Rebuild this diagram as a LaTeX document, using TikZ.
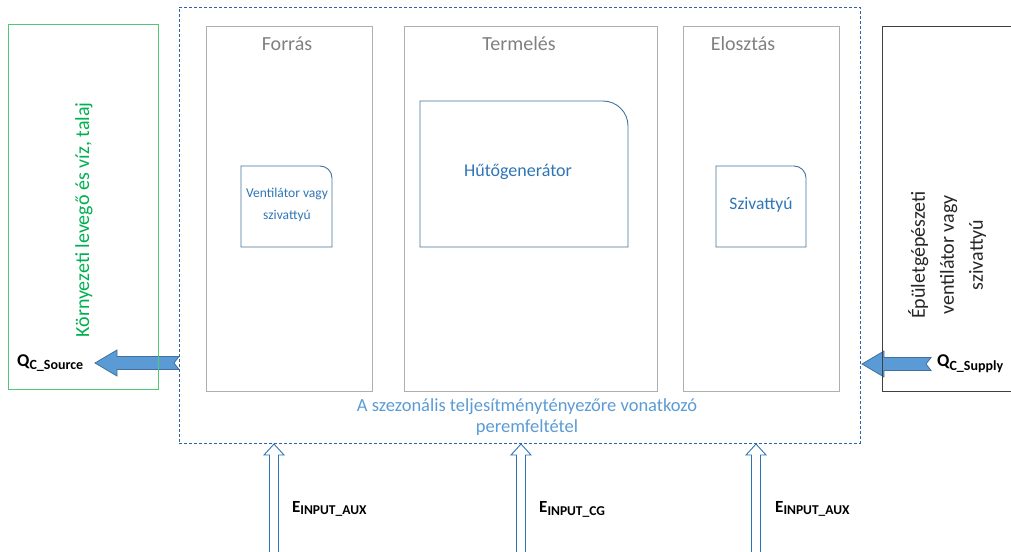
\documentclass[tikz,border=0pt]{standalone}
\usepackage{fontspec}
\setmainfont{Carlito}
\usetikzlibrary{calc}
\definecolor{zonegray}{RGB}{175,175,175}
\definecolor{titlegray}{RGB}{128,128,128}
\definecolor{envgreen}{RGB}{0,176,80}
\definecolor{envline}{RGB}{80,200,120}
\definecolor{unitline}{RGB}{65,113,156}
\definecolor{unittext}{RGB}{46,117,182}
\definecolor{lightblue}{RGB}{91,155,213}
\definecolor{dashblue}{RGB}{46,100,165}
\definecolor{darkline}{RGB}{64,64,64}
\tikzset{
  zone/.style={draw=zonegray,line width=0.9pt,inner sep=0pt,outer sep=0pt},
  frame/.style={inner sep=0pt,outer sep=0pt},
  zonetitle/.style={text=titlegray,font=\fontsize{20}{24}\selectfont,inner sep=0pt},
  unitlabel/.style={text=unittext,align=center,inner sep=0pt},
  blockarrow/.style={fill=lightblue,draw=unitline,line width=0.8pt,line join=miter},
  hollowarrow/.style={fill=white,draw=unittext,line width=0.9pt,line join=miter},
  qlabel/.style={anchor=west,inner sep=0pt,font=\bfseries\fontsize{18}{20}\selectfont},
  elabel/.style={anchor=west,inner sep=0pt,font=\bfseries\fontsize{17}{20}\selectfont}
}
\newcommand\rtbox[2]{%
  \draw[unitline,line width=0.9pt] (#1.south west) -- (#1.north west) -- ([xshift=-#2]#1.north east)
    to[out=0,in=90] ([yshift=-#2]#1.north east) -- (#1.south east) -- cycle;}
% left-pointing block arrow from tail #1 to tip #2
\newcommand\leftblock[2]{%
  \filldraw[blockarrow] (#2) -- ($(#2)+(22,-13)$) -- ($(#2)+(22,-6.5)$) -- ($(#1)+(0,-6.5)$)
    -- ($(#1)+(-5,0)$) -- ($(#1)+(0,6.5)$) -- ($(#2)+(22,6.5)$) -- ($(#2)+(22,13)$) -- cycle;}
% upward hollow arrow from #1 (bottom) to tip #2
\newcommand\uphollow[2]{%
  \filldraw[hollowarrow] (#1) -- ($(#1)+(10,11)$) -- ($(#1)+(4.5,11)$) -- ($(#1)+(4.5,30)$)
    -- ($(#1)+(-4.5,30)$) -- ($(#1)+(-4.5,11)$) -- ($(#1)+(-10,11)$) -- cycle;
  \filldraw[hollowarrow] (#2) -- ($(#2)+(10,11)$) -- ($(#2)+(4.5,11)$) -- ($(#1)+(4.5,0)$)
    -- ($(#1)+(4.5,30)$) -- ($(#1)+(-4.5,30)$) -- ($(#1)+(-4.5,0)$) -- ($(#2)+(-4.5,11)$)
    -- ($(#2)+(-10,11)$) -- cycle;}
\begin{document}
\begin{tikzpicture}[x=1pt,y=-1pt]
\useasboundingbox (0,0) rectangle (1011,551);
\clip (0,0) rectangle (1011,551);
% coordinates for connectors
\coordinate (srcTail) at (179,363);
\coordinate (srcTip) at (95,363);
\coordinate (supTail) at (931,364);
\coordinate (supTip) at (862,364);
% block arrows (beneath the boxes)
\leftblock{srcTail}{srcTip}
\leftblock{supTail}{supTip}
% environment box
\node[frame,draw=envline,line width=0.9pt,minimum width=150pt,minimum height=365pt] (env) at (83,206.5) {};
\node[rotate=90,text=envgreen,inner sep=0pt,font=\fontsize{20}{24}\selectfont] (envtext) at (84,220) {Környezeti levegő és víz, talaj};
% building box
\node[frame,draw=darkline,line width=0.9pt,minimum width=140pt,minimum height=365pt,anchor=north west] (bld) at (882.5,26) {};
\node[rotate=90,align=center,text=black!85,inner sep=0pt,font=\fontsize{20}{29}\selectfont] (bldtext) at (947,255) {Épületgépészeti\\ventilátor vagy\\szivattyú};
% outer dashed boundary
\node[frame,draw=dashblue,line width=0.9pt,dash pattern=on 3pt off 2pt,minimum width=681pt,minimum height=436pt] (bound) at (519.5,225) {};
% zones
\node[zone,minimum width=166pt,minimum height=365pt] (forras) at (289,208.5) {};
\node[zone,minimum width=253pt,minimum height=365pt] (termeles) at (530.5,208.5) {};
\node[zone,minimum width=156pt,minimum height=365pt] (elosztas) at (761,208.5) {};
\node[zonetitle] (tforras) at (287,44) {Forrás};
\node[zonetitle] (ttermeles) at (519,44) {Termelés};
\node[zonetitle] (telosztas) at (743,44) {Elosztás};
% units
\node[frame,minimum width=91pt,minimum height=81pt] (vent) at (286.5,206.5) {};
\node[frame,minimum width=208pt,minimum height=146pt] (cg) at (524,174) {};
\node[frame,minimum width=90pt,minimum height=81pt] (pump) at (761,206.5) {};
\rtbox{vent}{12pt}
\rtbox{cg}{25pt}
\rtbox{pump}{12pt}
\node[unitlabel,font=\fontsize{13.5}{22}\selectfont] (tvent) at (287,205) {Ventilátor vagy\\szivattyú};
\node[unitlabel,font=\fontsize{18}{22}\selectfont] (tcg) at (518,172) {Hűtőgenerátor};
\node[unitlabel,font=\fontsize{17.5}{22}\selectfont] (tpump) at (761,205) {Szivattyú};
% boundary caption
\node[text=lightblue,align=center,inner sep=0pt,font=\fontsize{18.5}{21.5}\selectfont] (caption) at (527,417) {A szezonális teljesítménytényezőre vonatkozó\\peremfeltétel};
% Q labels
\node[qlabel] (qsrc) at (17,363) {Q\textsubscript{\fontsize{14}{15}\selectfont C\_Source}};
\node[qlabel] (qsup) at (937,364) {Q\textsubscript{\fontsize{14}{15}\selectfont C\_Supply}};
% energy input arrows
\foreach \n/\x in {a/274,b/521,c/756}{
  \coordinate (in\n top) at (\x,444);
  \coordinate (in\n bot) at (\x,547);
  \uphollow{in\n bot}{in\n top}
}
\node[elabel] (ea) at (292,509) {E\textsubscript{\fontsize{13.5}{14}\selectfont INPUT\_AUX}};
\node[elabel] (eb) at (539,509) {E\textsubscript{\fontsize{13.5}{14}\selectfont INPUT\_CG}};
\node[elabel] (ec) at (775,509) {E\textsubscript{\fontsize{13.5}{14}\selectfont INPUT\_AUX}};
\end{tikzpicture}
\end{document}
